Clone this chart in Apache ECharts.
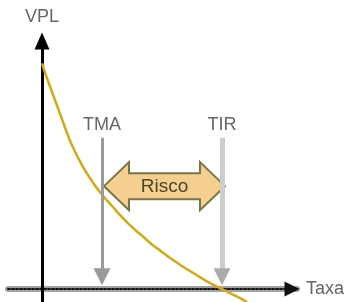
<!DOCTYPE html>
<html>
<head>
<meta charset="utf-8">
<script src="https://cdn.jsdelivr.net/npm/echarts@6/dist/echarts.min.js"></script>
<style>
html, body { margin: 0; padding: 0; background: #fff; }
#chart { width: 347px; height: 302px; }
</style>
</head>
<body>
<div id="chart"></div>
<script>
// curva VPL x taxa
var taxa = [0, 0.5, 1.0, 1.5, 2.0, 2.5, 3.0, 4.0, 5.0, 6.0, 7.0, 8.0, 9.0, 10, 11, 12, 13, 14, 15, 16, 17, 18, 19, 20, 20.5];
var vpl = [91, 85, 79.5, 74, 68.5, 63, 58, 50, 43.5, 38, 33.5, 29, 25, 21.5, 18, 15, 12, 9.3, 6.8, 4.3, 2, 0, -2, -4, -5.2];
// marcos verticais
var marcos = ['TMA', 'TIR'];
var marcosTaxa = [6, 18];
var marcosTopo = 61;
var marcosBase = 5;
// seta dupla "Risco"
var riscoSpan = [6.2, 18.3];
var riscoNivel = 41.5;

var fonte = '"Liberation Sans Narrow", "Liberation Sans", sans-serif';
var xMin = -3.4, xMax = 25.5, yMin = -5.2, yMax = 100;

var chart = echarts.init(document.getElementById('chart'));

var curva = taxa.map(function (t, i) { return [t, vpl[i]]; });

var corLinha = ['#9a9a9a', '#cdcdcd'];
var corSeta = ['#9a9a9a', '#ababab'];
var larg = [3, 5];

var option = {
    animation: false,
    grid: [
        { left: 8, right: 50, top: 41, bottom: 0 },
        { left: 8, right: 50, top: 41, bottom: 0 }
    ],
    xAxis: [
        {
            type: 'value', gridIndex: 0, min: xMin, max: xMax,
            axisLine: { onZero: true, lineStyle: { color: '#a2a2a2', width: 6 } },
            axisTick: { show: false }, axisLabel: { show: false }, splitLine: { show: false }
        },
        {
            type: 'value', gridIndex: 1, min: xMin, max: xMax, position: 'bottom',
            axisLine: {
                onZero: true,
                symbol: ['none', 'triangle'], symbolSize: [15, 15],
                lineStyle: { color: '#111', width: 2, type: [2, 2] }
            },
            name: 'Taxa', nameLocation: 'end', nameGap: 14,
            nameTextStyle: { color: '#666', fontSize: 18, fontFamily: fonte, verticalAlign: 'middle' },
            axisTick: { show: false }, axisLabel: { show: false }, splitLine: { show: false }
        }
    ],
    yAxis: [
        {
            type: 'value', gridIndex: 0, min: yMin, max: yMax, z: 1,
            axisLine: {
                onZero: true,
                symbol: ['none', 'triangle'], symbolSize: [15, 17],
                lineStyle: { color: '#000', width: 3 }
            },
            name: 'VPL', nameLocation: 'end', nameGap: 15,
            nameTextStyle: { color: '#666', fontSize: 18, fontFamily: fonte, align: 'center' },
            axisTick: { show: false }, axisLabel: { show: false }, splitLine: { show: false }
        },
        {
            type: 'value', gridIndex: 1, min: yMin, max: yMax, show: false
        }
    ],
    series: [
        {
            type: 'line', xAxisIndex: 0, yAxisIndex: 0,
            data: curva, smooth: true, symbol: 'none', z: 3,
            lineStyle: { color: '#d6a812', width: 2.5 },
            markLine: {
                silent: true, symbol: ['none', 'none'], animation: false,
                data: marcos.map(function (m, i) {
                    return [
                        {
                            name: m, coord: [marcosTaxa[i], marcosTopo],
                            lineStyle: { color: corLinha[i], width: larg[i], type: 'solid' },
                            label: {
                                show: true, position: 'start', formatter: '{b}', distance: 4,
                                color: '#666', fontSize: 18, fontFamily: fonte
                            }
                        },
                        { coord: [marcosTaxa[i], marcosBase] }
                    ];
                })
            },
            markPoint: {
                silent: true, symbol: 'triangle', symbolRotate: 180, symbolSize: [17, 17],
                label: { show: false },
                data: marcos.map(function (m, i) {
                    return { coord: [marcosTaxa[i], marcosBase], itemStyle: { color: corSeta[i] } };
                })
            }
        },
        {
            type: 'custom', xAxisIndex: 0, yAxisIndex: 0, z: 4,
            data: [[riscoSpan[0], riscoSpan[1], riscoNivel]],
            renderItem: function (params, api) {
                var a = api.coord([api.value(0), api.value(2)]);
                var b = api.coord([api.value(1), api.value(2)]);
                var x0 = a[0], x1 = b[0], y = a[1];
                var hw = 24, bh = 13, hl = 25;
                return {
                    type: 'group',
                    children: [
                        {
                            type: 'polygon',
                            shape: {
                                points: [
                                    [x0, y], [x0 + hl, y - hw], [x0 + hl, y - bh], [x1 - hl, y - bh],
                                    [x1 - hl, y - hw], [x1, y], [x1 - hl, y + hw], [x1 - hl, y + bh],
                                    [x0 + hl, y + bh], [x0 + hl, y + hw]
                                ]
                            },
                            style: { fill: '#f4cf8f', stroke: '#7a7444', lineWidth: 2 }
                        },
                        {
                            type: 'text', x: (x0 + x1) / 2, y: y + 1,
                            style: {
                                text: 'Risco', fill: '#4a4628', font: '19px ' + fonte,
                                align: 'center', verticalAlign: 'middle'
                            }
                        }
                    ]
                };
            }
        }
    ]
};

chart.setOption(option);
</script>
</body>
</html>
